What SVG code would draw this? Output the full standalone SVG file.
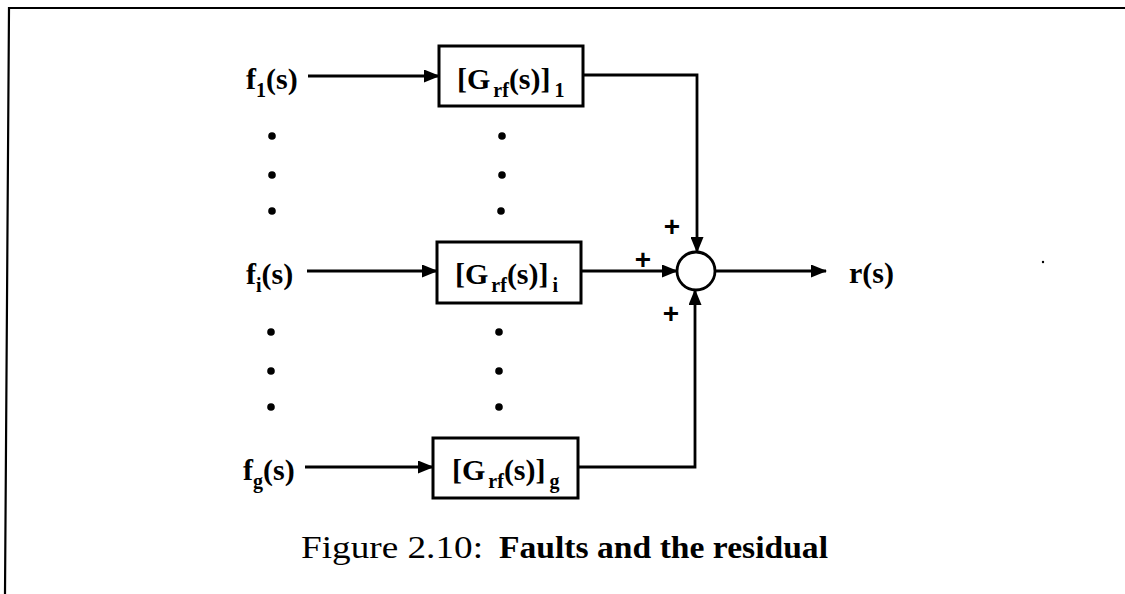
<svg xmlns="http://www.w3.org/2000/svg" width="1125" height="594" viewBox="0 0 1125 594">
<style>
.lbl{font-family:"Liberation Serif",serif;font-weight:bold;font-size:30px;fill:#000}
.sub{font-size:20px}
.plus{font-family:"Liberation Sans",sans-serif;font-weight:bold;font-size:28px;fill:#000;text-anchor:middle}
.box{fill:#fff;stroke:#000;stroke-width:3}
.wire{fill:none;stroke:#000;stroke-width:2.8}
.cap{font-family:"Liberation Serif",serif;font-size:32px;fill:#000}
</style>
<defs>
<marker id="ah" markerWidth="16" markerHeight="13" refX="15" refY="6.5" orient="auto" markerUnits="userSpaceOnUse">
<path d="M0,0 L16,6.5 L0,13 Z" fill="#000"/>
</marker>
</defs>
<rect width="1125" height="594" fill="#fff"/>
<path d="M5,594 L9,8 L1125,8" fill="none" stroke="#000" stroke-width="2.2"/>

<g id="connectors">
<line class="wire" x1="308" y1="76" x2="439" y2="76" marker-end="url(#ah)"/>
<path class="wire" d="M583,75 H697 V252" marker-end="url(#ah)"/>
<line class="wire" x1="307" y1="271" x2="437" y2="271" marker-end="url(#ah)"/>
<line class="wire" x1="581" y1="271" x2="677" y2="271" marker-end="url(#ah)"/>
<line class="wire" x1="305" y1="467" x2="433" y2="467" marker-end="url(#ah)"/>
<path class="wire" d="M578,467 H695 V290" marker-end="url(#ah)"/>
<line class="wire" x1="715" y1="271" x2="826" y2="271" marker-end="url(#ah)"/>
</g>

<g id="f1"><text class="lbl" x="246" y="89">f<tspan class="sub" dy="8">1</tspan><tspan dy="-8">(s)</tspan></text></g>
<g id="fi"><text class="lbl" x="246" y="284">f<tspan class="sub" dy="8">i</tspan><tspan dy="-8">(s)</tspan></text></g>
<g id="fg"><text class="lbl" x="243" y="480">f<tspan class="sub" dy="8">g</tspan><tspan dy="-8">(s)</tspan></text></g>

<g id="box1"><rect class="box" x="439" y="46" width="144" height="60"/>
<text class="lbl" x="457" y="89">[G<tspan class="sub" dx="3" dy="8">rf</tspan><tspan dy="-8">(s)]</tspan><tspan class="sub" dx="4" dy="8">1</tspan></text></g>
<g id="boxi"><rect class="box" x="437" y="242" width="144" height="61"/>
<text class="lbl" x="455" y="284">[G<tspan class="sub" dx="3" dy="8">rf</tspan><tspan dy="-8">(s)]</tspan><tspan class="sub" dx="4" dy="8">i</tspan></text></g>
<g id="boxg"><rect class="box" x="433" y="438" width="145" height="60"/>
<text class="lbl" x="452" y="480">[G<tspan class="sub" dx="3" dy="8">rf</tspan><tspan dy="-8">(s)]</tspan><tspan class="sub" dx="4" dy="8">g</tspan></text></g>

<g id="sum"><circle cx="696" cy="271" r="19" fill="#fff" stroke="#000" stroke-width="2.8"/>
<text class="plus" x="672" y="236">+</text>
<text class="plus" x="643" y="269">+</text>
<text class="plus" x="671" y="323">+</text></g>

<g id="out"><text class="lbl" x="849" y="283">r(s)</text></g>

<g id="dots" fill="#000">
<circle cx="272" cy="136" r="3.8"/><circle cx="272" cy="175" r="3.8"/><circle cx="272" cy="211" r="3.8"/>
<circle cx="271" cy="332" r="3.8"/><circle cx="271" cy="371" r="3.8"/><circle cx="271" cy="407" r="3.8"/>
<circle cx="502" cy="136" r="3.8"/><circle cx="502" cy="175" r="3.8"/><circle cx="501" cy="211" r="3.8"/>
<circle cx="499" cy="332" r="3.8"/><circle cx="499" cy="371" r="3.8"/><circle cx="499" cy="407" r="3.8"/>
<circle cx="1043" cy="262" r="1.2"/>
</g>

<g id="caption">
<text class="cap" x="301" y="558" textLength="182" lengthAdjust="spacingAndGlyphs">Figure 2.10:</text>
<text class="cap" x="499" y="558" font-weight="bold" textLength="329" lengthAdjust="spacingAndGlyphs">Faults and the residual</text>
</g>
</svg>
